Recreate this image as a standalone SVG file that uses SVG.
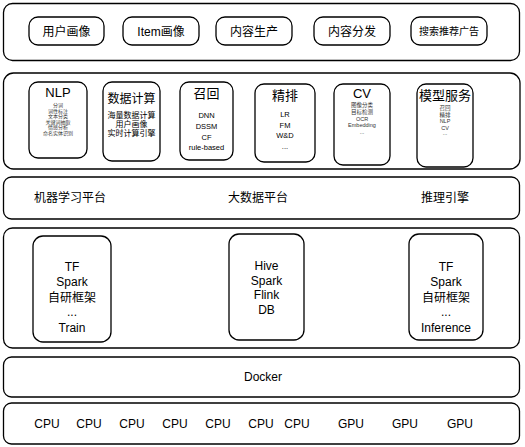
<svg xmlns="http://www.w3.org/2000/svg" width="525" height="447" viewBox="0 0 525 447">
<style>
.layer{fill:#fff;stroke:#000;stroke-width:1.3}
.box{fill:#fff;stroke:#000;stroke-width:1.3}
text{font-family:"Liberation Sans","Noto Sans CJK SC",sans-serif;fill:#000;text-anchor:middle}
.t12{font-size:12px}
.t11{font-size:11px}
.t10{font-size:10px}
.title{font-size:13px}
.title12{font-size:12px}
.s8{font-size:8px}
.s7{font-size:7.5px}
.s5{font-size:5px;fill:#333}
.s55{font-size:5.5px;fill:#333}
</style>
<rect width="525" height="447" fill="#fff"/>
<g id="layer-app">
<rect class="layer" x="3.5" y="3.5" width="516" height="57" rx="9"/>
<g id="n-user"><rect class="box" x="29" y="17" width="75" height="28" rx="9"/><text class="t12" x="66.5" y="35.5">用户画像</text></g>
<g id="n-item"><rect class="box" x="123" y="17" width="76" height="28" rx="9"/><text class="t12" x="161" y="35.5">Item画像</text></g>
<g id="n-produce"><rect class="box" x="216" y="17" width="76" height="28" rx="9"/><text class="t12" x="254" y="35.5">内容生产</text></g>
<g id="n-dist"><rect class="box" x="314" y="17" width="76" height="28" rx="9"/><text class="t12" x="352" y="35.5">内容分发</text></g>
<g id="n-ads"><rect class="box" x="411" y="17" width="76" height="28" rx="9"/><text class="t10" x="449" y="35">搜索推荐广告</text></g>
</g>
<g id="layer-algo">
<rect class="layer" x="3.5" y="73" width="516.5" height="96" rx="10"/>
<g id="n-nlp"><rect class="box" x="29" y="82" width="58" height="76" rx="9"/>
<text class="title" x="58" y="96.5">NLP</text>
<text class="s5" x="58" y="107">分词</text>
<text class="s5" x="58" y="112.5">词性标注</text>
<text class="s5" x="58" y="118">文本分类</text>
<text class="s5" x="58" y="123.5">关键词抽取</text>
<text class="s5" x="58" y="129">情感分析</text>
<text class="s5" x="58" y="134.5">命名实体识别</text>
</g>
<g id="n-data"><rect class="box" x="103" y="82" width="57" height="79" rx="9"/>
<text class="title12" x="131.5" y="102.5">数据计算</text>
<text class="s8" x="131.5" y="118">海量数据计算</text>
<text class="s8" x="131.5" y="127">用户画像</text>
<text class="s8" x="131.5" y="136">实时计算引擎</text>
</g>
<g id="n-recall"><rect class="box" x="180" y="82" width="53" height="78" rx="9"/>
<text class="title" x="206.5" y="97.5">召回</text>
<text class="s7" x="206.5" y="118">DNN</text>
<text class="s7" x="206.5" y="128.5">DSSM</text>
<text class="s7" x="206.5" y="139.5">CF</text>
<text class="s7" x="206.5" y="150">rule-based</text>
</g>
<g id="n-rank"><rect class="box" x="255" y="84" width="60" height="78" rx="9"/>
<text class="title" x="285" y="99.5">精排</text>
<text class="s7" x="285" y="117">LR</text>
<text class="s7" x="285" y="128">FM</text>
<text class="s7" x="285" y="138">W&amp;D</text>
<text class="s7" x="285" y="149">...</text>
</g>
<g id="n-cv"><rect class="box" x="334" y="84" width="56" height="81" rx="9"/>
<text class="title" x="362" y="97.5">CV</text>
<text class="s55" x="362" y="107">图像分类</text>
<text class="s55" x="362" y="114">目标检测</text>
<text class="s55" x="362" y="120.5">OCR</text>
<text class="s55" x="362" y="127">Embedding</text>
<text class="s55" x="362" y="134">...</text>
</g>
<g id="n-serve"><rect class="box" x="417" y="84" width="56" height="83" rx="9"/>
<text class="title" x="445" y="99.5">模型服务</text>
<text class="s55" x="445" y="110">召回</text>
<text class="s55" x="445" y="116.5">精排</text>
<text class="s55" x="445" y="123">NLP</text>
<text class="s55" x="445" y="129.5">CV</text>
<text class="s55" x="445" y="135">...</text>
</g>
</g>
<g id="layer-platform">
<rect class="layer" x="3.5" y="177" width="516" height="42" rx="8"/>
<text class="t12" x="70" y="202">机器学习平台</text>
<text class="t12" x="258" y="202">大数据平台</text>
<text class="t12" x="445" y="202">推理引擎</text>
</g>
<g id="layer-framework">
<rect class="layer" x="3.5" y="228" width="516" height="120" rx="9"/>
<g id="n-train"><rect class="box" x="33" y="236" width="78" height="106" rx="10"/>
<text class="t12" x="72" y="271">TF</text>
<text class="t12" x="72" y="286">Spark</text>
<text class="t12" x="72" y="302">自研框架</text>
<text class="t12" x="72" y="316">...</text>
<text class="t12" x="72" y="332">Train</text>
</g>
<g id="n-bigdata"><rect class="box" x="229" y="234" width="75" height="106" rx="10"/>
<text class="t12" x="266.5" y="270">Hive</text>
<text class="t12" x="266.5" y="284.5">Spark</text>
<text class="t12" x="266.5" y="299">Flink</text>
<text class="t12" x="266.5" y="314">DB</text>
</g>
<g id="n-infer"><rect class="box" x="409" y="234" width="74" height="106" rx="10"/>
<text class="t12" x="446" y="271">TF</text>
<text class="t12" x="446" y="286">Spark</text>
<text class="t12" x="446" y="302">自研框架</text>
<text class="t12" x="446" y="316">...</text>
<text class="t12" x="446" y="332">Inference</text>
</g>
</g>
<g id="layer-docker">
<rect class="layer" x="3.5" y="357" width="516" height="40" rx="8"/>
<text class="t12" x="263" y="381">Docker</text>
</g>
<g id="layer-hw">
<rect class="layer" x="3.5" y="403" width="516" height="41" rx="8"/>
<text class="t12" x="47" y="428">CPU</text>
<text class="t12" x="89" y="428">CPU</text>
<text class="t12" x="132" y="428">CPU</text>
<text class="t12" x="175" y="428">CPU</text>
<text class="t12" x="218" y="428">CPU</text>
<text class="t12" x="261" y="428">CPU</text>
<text class="t12" x="297" y="428">CPU</text>
<text class="t12" x="351" y="428">GPU</text>
<text class="t12" x="405" y="428">GPU</text>
<text class="t12" x="460" y="428">GPU</text>
</g>
<g id="connectors"></g>
</svg>
